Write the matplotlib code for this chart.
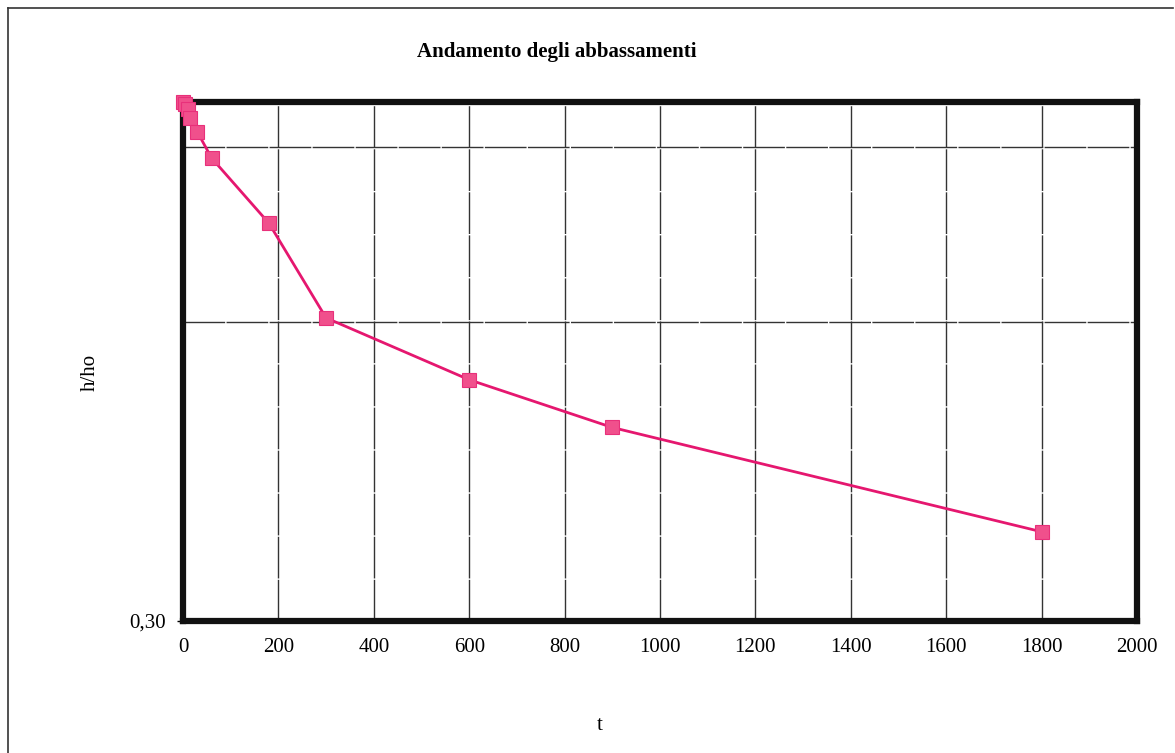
import matplotlib
matplotlib.use("Agg")
import matplotlib.pyplot as plt
from matplotlib.lines import Line2D
from matplotlib.ticker import FixedLocator, NullFormatter

# Time (s) and normalised head h/ho
t = [0, 5, 10, 15, 30, 60, 180, 300, 600, 900, 1800]
h_ratio = [1.0, 0.995, 0.985, 0.964, 0.933, 0.878, 0.755, 0.606, 0.525, 0.470, 0.369]

x_ticks = [0, 200, 400, 600, 800, 1000, 1200, 1400, 1600, 1800, 2000]
y_label_ticks = [0.30]
y_label_text = ["0,30"]
y_grid = [0.6, 0.9]

W, H = 1175, 753
fig = plt.figure(figsize=(W / 100, H / 100), dpi=100)
fig.patch.set_facecolor("white")

serif = ["Liberation Serif", "DejaVu Serif"]

left, right, top, bottom = 183, 1137, 102, 621
ax = fig.add_axes([left / W, 1 - bottom / H, (right - left) / W, (bottom - top) / H])

ax.set_yscale("log")
ax.set_xlim(0, 2000)
ax.set_ylim(0.30, 1.0)

ax.xaxis.set_major_locator(FixedLocator(x_ticks))
ax.set_xticklabels([str(v) for v in x_ticks], fontfamily=serif, fontsize=15)
ax.yaxis.set_major_locator(FixedLocator(y_label_ticks))
ax.set_yticklabels(y_label_text, fontfamily=serif, fontsize=15)
ax.yaxis.set_minor_locator(FixedLocator(y_grid))
ax.yaxis.set_minor_formatter(NullFormatter())

ax.tick_params(axis="x", length=0, pad=12)
ax.tick_params(axis="y", which="major", length=4, width=1, pad=8)
ax.tick_params(axis="y", which="minor", length=0)

ax.grid(True, axis="x", which="major", color="#333333", lw=1.0, ls=(0, (30, 1)))
ax.grid(True, axis="y", which="minor", color="#333333", lw=1.0, ls=(0, (30, 1)))
ax.set_axisbelow(True)

for sp in ax.spines.values():
    sp.set_linewidth(4.5)
    sp.set_color("#111111")

ax.plot(t, h_ratio, color="#E5176F", lw=2.0, marker="s", markersize=10,
        markerfacecolor="#F0508C", markeredgecolor="#E8307A", markeredgewidth=0.8,
        clip_on=False, zorder=3)

fig.text(557 / W, 1 - 52 / H, "Andamento degli abbassamenti", ha="center", va="center",
         fontfamily=serif, fontsize=15, fontweight="bold")
fig.text(600 / W, 1 - 726 / H, "t", ha="center", va="center", fontfamily=serif, fontsize=15)
fig.text(90 / W, 1 - 372 / H, "h/ho", ha="center", va="center", rotation=90,
         fontfamily=serif, fontsize=15)

# outer frame of the sheet
fig.add_artist(Line2D([8 / W, 1173 / W], [1 - 8 / H, 1 - 8 / H], color="#333333", lw=1.2))
fig.add_artist(Line2D([8 / W, 8 / W], [1 - 8 / H, 0], color="#333333", lw=1.2))

fig.savefig("out.png", dpi=100, facecolor="white")
